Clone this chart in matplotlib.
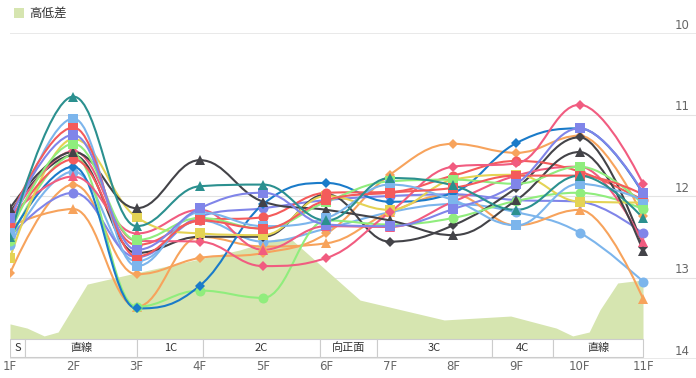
import matplotlib
matplotlib.use('Agg')
import matplotlib.pyplot as plt
from matplotlib.path import Path
from matplotlib.patches import PathPatch, Rectangle
from matplotlib.transforms import blended_transform_factory

plt.rcParams['font.family'] = ['Noto Sans CJK JP', 'DejaVu Sans']

furlongs = ['1F', '2F', '3F', '4F', '5F', '6F', '7F', '8F', '9F', '10F', '11F']
y_ticks = [10, 11, 12, 13, 14]

# 高低差 (course elevation, m) : position in furlongs, height
elev_pos = [1.00, 1.27, 1.54, 1.76, 2.22, 2.99, 4.00, 4.63, 5.19, 5.42, 6.53,
            7.86, 8.91, 9.63, 9.89, 10.15, 10.32, 10.60, 11.00]
elev_h = [0.54, 0.39, 0.11, 0.25, 1.96, 2.36, 2.86, 3.18, 3.57, 3.61, 1.39,
          0.68, 0.82, 0.39, 0.11, 0.25, 1.04, 2.00, 2.11]

sections = ['S', '直線', '1C', '2C', '向正面', '3C', '4C', '直線']
section_edges = [1.0, 1.24, 3.01, 4.05, 5.9, 6.8, 8.61, 9.58, 11.0]

# lap times per furlong (sec)
pink_dia = [12.30, 11.45, 12.55, 12.56, 12.86, 12.76, 12.20, 11.64, 11.60, 10.88, 11.85]
pink_tri = [12.25, 11.76, 12.46, 12.17, 12.66, 12.37, 12.38, 12.07, 11.75, 11.64, 12.57]
purple_sq = [12.27, 11.25, 12.66, 12.15, 11.96, 12.35, 12.37, 12.16, 11.85, 11.17, 11.96]
purple_ci = [12.50, 11.96, 12.75, 12.25, 12.15, 12.05, 12.00, 11.98, 12.05, 12.07, 12.46]
red_sq = [12.27, 11.16, 12.74, 12.30, 12.40, 12.05, 11.96, 11.90, 11.75, 11.75, 11.98]
red_ci = [12.35, 11.55, 12.60, 12.30, 12.26, 11.96, 11.95, 11.75, 11.57, 11.70, 12.05]
yellow_sq = [12.76, 11.30, 12.26, 12.46, 12.48, 12.00, 12.17, 11.80, 11.74, 12.07, 12.08]
teal_tri = [12.50, 10.78, 12.37, 11.88, 11.86, 12.30, 11.78, 11.87, 12.17, 11.75, 12.27]
dark_tri = [12.15, 11.46, 12.15, 11.56, 12.07, 12.17, 12.30, 12.48, 12.05, 11.46, 12.67]
dark_dia = [12.20, 11.50, 12.70, 12.50, 12.50, 11.98, 12.56, 12.36, 11.90, 11.28, 12.62]
blue_dia = [12.50, 11.64, 13.38, 13.10, 12.10, 11.84, 12.07, 11.96, 11.35, 11.17, 11.97]
green_ci = [12.55, 11.50, 13.36, 13.16, 13.25, 12.30, 12.35, 12.27, 12.06, 11.96, 12.16]
green_sq = [12.45, 11.36, 12.54, 12.27, 12.40, 12.07, 11.82, 11.80, 11.85, 11.64, 12.10]
lblue_sq = [12.45, 11.05, 12.86, 12.20, 12.37, 12.27, 11.86, 12.05, 12.36, 11.85, 12.05]
lblue_ci = [12.60, 11.70, 12.80, 12.30, 12.56, 12.40, 12.20, 12.10, 12.20, 12.45, 13.05]
orange_dia = [12.95, 11.86, 12.96, 12.76, 12.70, 12.46, 11.74, 11.36, 11.47, 11.26, 12.25]
orange_tri = [12.37, 12.16, 13.36, 12.50, 12.62, 12.58, 12.20, 11.98, 12.36, 12.17, 13.26]

series = [
    (lblue_ci, '#7cb5ec', 'o'),
    (orange_tri, '#f7a35c', '^'),
    (orange_dia, '#f7a35c', 'D'),
    (purple_ci, '#8085e9', 'o'),
    (dark_dia, '#434348', 'D'),
    (green_ci, '#90ed7d', 'o'),
    (blue_dia, '#1a7bc9', 'D'),
    (pink_tri, '#f15c80', '^'),
    (yellow_sq, '#e4d354', 's'),
    (red_ci, '#f45b5b', 'o'),
    (pink_dia, '#f15c80', 'D'),
    (dark_tri, '#434348', '^'),
    (green_sq, '#90ed7d', 's'),
    (lblue_sq, '#7cb5ec', 's'),
    (red_sq, '#f45b5b', 's'),
    (purple_sq, '#8085e9', 's'),
    (teal_tri, '#2b908f', '^'),
]


def spline_path(xs, ys, smooth=1.5):
    # same smoothing as a highcharts spline
    n = len(xs)
    verts = [(xs[0], ys[0])]
    codes = [Path.MOVETO]
    right = [None] * n
    for i in range(1, n):
        x, y = xs[i], ys[i]
        left = (x, y)
        if i < n - 1:
            px, py = xs[i - 1], ys[i - 1]
            nx, ny = xs[i + 1], ys[i + 1]
            d = smooth + 1
            lcx, lcy = (smooth * x + px) / d, (smooth * y + py) / d
            rcx, rcy = (smooth * x + nx) / d, (smooth * y + ny) / d
            corr = (rcy - lcy) * (rcx - x) / (rcx - lcx) + y - rcy
            lcy += corr
            rcy += corr
            if lcy > py and lcy > y:
                lcy = max(py, y); rcy = 2 * y - lcy
            elif lcy < py and lcy < y:
                lcy = min(py, y); rcy = 2 * y - lcy
            if rcy > ny and rcy > y:
                rcy = max(ny, y); lcy = 2 * y - rcy
            elif rcy < ny and rcy < y:
                rcy = min(ny, y); lcy = 2 * y - rcy
            left = (lcx, lcy)
            right[i] = (rcx, rcy)
        c1 = right[i - 1] if right[i - 1] is not None else (xs[i - 1], ys[i - 1])
        verts += [c1, left, (x, y)]
        codes += [Path.CURVE4] * 3
    return Path(verts, codes)


W, H = 696, 378
fig = plt.figure(figsize=(W / 100, H / 100), dpi=100)
rect = [10 / W, 19 / H, 686 / W, 326 / H]

# background axes for elevation
ax_el = fig.add_axes(rect)
ax = fig.add_axes(rect, sharex=ax_el)
ax.set_zorder(ax_el.get_zorder() + 1)
ax.patch.set_visible(False)

xmax = 1 + 686 / 63.3
ax.set_xlim(1, xmax)
ax.set_ylim(14, 10)
ax_el.set_ylim(-20 / 28, 306 / 28)

for a in (ax, ax_el):
    for s in a.spines.values():
        s.set_visible(False)
ax_el.set_yticks([])
ax_el.tick_params(axis='x', length=0, labelbottom=False)

# grid lines under the elevation area
grid_tr = blended_transform_factory(ax_el.transAxes, ax.transData)
for v in y_ticks:
    lw = 1.1 if v in (10, 14) else 0.8
    ax_el.plot([0, 1], [v, v], transform=grid_tr, color='#e3e3e3', lw=lw, zorder=0)
    ax.annotate(str(v), xy=(680 / 686, v), xycoords=blended_transform_factory(ax.transAxes, ax.transData),
                xytext=(0, 1), textcoords='offset points', ha='right', va='bottom',
                fontsize=8.5, color='#666666', family=['DejaVu Sans'])

ax_el.fill_between(elev_pos, 0, elev_h, color='#d6e5b0', lw=0, zorder=1)

# lines
xs = list(range(1, len(furlongs) + 1))
for vals, col, mk in series:
    p = spline_path(xs, vals)
    ax.add_patch(PathPatch(p, fill=False, edgecolor=col, lw=1.5, zorder=3, capstyle='round'))
    ms = 5.2 if mk == 'D' else 7.2
    ax.plot(xs, vals, linestyle='none', marker=mk, ms=ms, color=col, mew=0, zorder=4)

# section band
band_tr = blended_transform_factory(ax.transData, ax.transAxes)
b0, b1 = 2 / 326, 20 / 326
for i, name in enumerate(sections):
    x0, x1 = section_edges[i], section_edges[i + 1]
    ax.add_patch(Rectangle((x0, b0), x1 - x0, b1 - b0, transform=band_tr,
                           facecolor='white', edgecolor='#cccccc', lw=0.8, zorder=5))
    ax.text((x0 + x1) / 2, (b0 + b1) / 2, name, transform=band_tr, ha='center', va='center',
            fontsize=8, color='#333333', zorder=6)

ax.set_yticks([])
ax.set_xticks(xs)
ax.set_xticklabels(furlongs, fontsize=8.5, color='#666666', family=['DejaVu Sans'])
ax.tick_params(axis='x', length=0, pad=0.5)

# legend
fig.patches.append(Rectangle((14 / W, 1 - 18 / H), 10 / W, 10 / H, transform=fig.transFigure,
                             facecolor='#d6e5b0', edgecolor='none'))
fig.text(29 / W, 1 - 13 / H, '高低差', va='center', ha='left', fontsize=9, color='#333333')

fig.savefig('out.png', dpi=100)
